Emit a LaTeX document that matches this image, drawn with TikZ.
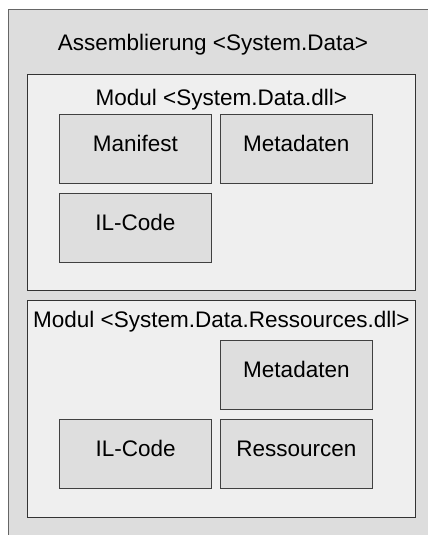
\documentclass[tikz,border=0pt]{standalone}
\usepackage{fontspec}
\setmainfont{Liberation Sans}
\usepackage{xcolor}
\usepackage{tikz}
\usetikzlibrary{positioning}
\definecolor{asmgray}{HTML}{DDDDDD}
\definecolor{modgray}{HTML}{EFEFEF}
\definecolor{partgray}{HTML}{DEDEDE}
\tikzset{
  asmbox/.style={rectangle, draw=black!60, fill=asmgray, line width=0.8pt, anchor=north west},
  modbox/.style={rectangle, draw=black!80, fill=modgray, line width=0.8pt, minimum width=388pt, anchor=north west},
  partbox/.style={rectangle, draw=black!75, fill=partgray, line width=0.8pt, minimum width=152pt, minimum height=69pt, text height=16pt, text depth=10pt, font=\fontsize{22.5}{27}\selectfont},
  titletext/.style={inner sep=0pt, text height=16pt, text depth=5pt, font=\fontsize{22.5}{27}\selectfont}
}
\begin{document}
\begin{tikzpicture}[x=1pt, y=-1pt]
        \useasboundingbox (0,0) rectangle (428,535);
        \clip (0,0) rectangle (428,535);

        % Assembly
        \node (assembly) [asmbox, minimum width=440pt, minimum height=545pt] at (8,9) {};
        \node (asmtitle) [titletext, anchor=north] at (213,34) {Assemblierung <System.Data>};

        % Module 1
        \node (modA) [modbox, minimum height=216pt] at (27,74) {};
        \node (modAtitle) [titletext, below=15pt of modA.north] {Modul <System.Data.dll>};
        \node (manifest) [partbox, anchor=north west] at (59,114) {Manifest};
        \node (metaA) [partbox, right=8pt of manifest] {Metadaten};
        \node (ilA) [partbox, below=9pt of manifest] {IL-Code};

        % Module 2
        \node (modB) [modbox, minimum height=217pt, below=9pt of modA.south west, anchor=north west] {};
        \node (modBtitle) [titletext, below=11pt of modB.north] {Modul <System.Data.Ressources.dll>};
        \node (metaB) [partbox, anchor=north west] at (220,340) {Metadaten};
        \node (resB) [partbox, below=9pt of metaB] {Ressourcen};
        \node (ilB) [partbox, left=8pt of resB] {IL-Code};
\end{tikzpicture}
\end{document}
